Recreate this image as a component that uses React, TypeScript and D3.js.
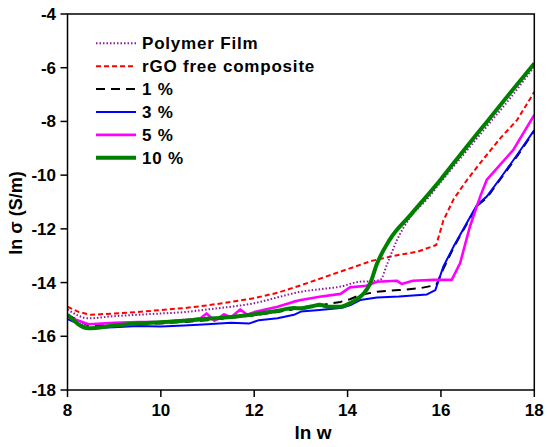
import React from 'react';
import * as d3 from 'd3';

// ln w / ln sigma readings, one pair of arrays per sample
const polymerX = [8, 8.45, 9, 9.5, 10, 10.5, 11, 11.5, 12, 12.5, 13, 13.4, 13.85, 14.25, 14.5, 14.7, 14.85, 15.05, 15.35, 15.7, 16, 16.5, 17, 17.5, 18];
const polymerY = [-15.0, -15.33, -15.25, -15.2, -15.15, -15.1, -15.0, -14.9, -14.77, -14.55, -14.34, -14.25, -14.15, -13.97, -13.95, -13.9, -13.3, -12.45, -11.55, -10.9, -10.25, -9.2, -8.15, -7.1, -5.95];

const rgoFreeX = [8, 8.25, 8.5, 9, 9.5, 10, 10.5, 11, 11.5, 12, 12.5, 13, 13.5, 14, 14.5, 15, 15.5, 15.9, 16.05, 16.27, 16.55, 16.84, 17.27, 17.63, 18];
const rgoFreeY = [-14.9, -15.1, -15.2, -15.15, -15.1, -15.02, -14.95, -14.85, -14.72, -14.58, -14.38, -14.1, -13.8, -13.5, -13.2, -13.0, -12.85, -12.6, -11.7, -10.9, -10.2, -9.55, -8.63, -7.95, -6.9];

const pct1X = [8, 8.45, 9, 9.5, 10, 10.5, 11, 11.4, 12, 12.4, 12.77, 13, 13.4, 13.85, 14.05, 14.27, 14.63, 15.1, 15.55, 15.9, 16.05, 16.27, 16.77, 16.98, 17.63, 18];
const pct1Y = [-15.2, -15.6, -15.58, -15.55, -15.52, -15.47, -15.4, -15.33, -15.22, -15.12, -15.02, -14.92, -14.85, -14.72, -14.62, -14.46, -14.34, -14.28, -14.21, -14.09, -13.5, -12.7, -11.15, -10.85, -9.3, -8.35];

const pct3X = [8, 8.45, 9, 9.5, 10, 10.5, 11, 11.5, 11.9, 12.1, 12.5, 12.85, 13.0, 13.4, 13.85, 14.05, 14.27, 14.63, 15.1, 15.7, 15.88, 16.05, 16.27, 16.77, 16.98, 17.3, 17.63, 18];
const pct3Y = [-15.36, -15.69, -15.66, -15.62, -15.64, -15.6, -15.55, -15.5, -15.52, -15.4, -15.33, -15.2, -15.08, -15.02, -14.95, -14.85, -14.65, -14.56, -14.52, -14.44, -14.28, -13.41, -12.66, -11.11, -10.8, -10.05, -9.25, -8.32];

const pct5X = [8, 8.45, 9, 9.5, 10, 10.5, 10.85, 10.98, 11.15, 11.35, 11.5, 11.7, 11.85, 12, 12.5, 12.85, 13.0, 13.4, 13.85, 14.05, 14.4, 14.63, 15.05, 15.16, 15.4, 15.85, 16.23, 16.41, 16.62, 16.84, 16.98, 17.55, 18];
const pct5Y = [-15.27, -15.55, -15.5, -15.47, -15.46, -15.4, -15.33, -15.15, -15.42, -15.18, -15.3, -15.0, -15.2, -15.1, -14.9, -14.71, -14.65, -14.53, -14.42, -14.18, -14.12, -13.97, -13.93, -14.05, -13.93, -13.9, -13.9, -13.28, -11.92, -10.8, -10.18, -9.06, -7.76];

const pct10X = [8, 8.45, 9, 9.5, 10, 10.5, 11, 11.5, 12, 12.5, 12.85, 13.0, 13.25, 13.4, 13.6, 13.85, 14.05, 14.2, 14.35, 14.48, 14.63, 14.9, 15.35, 16, 16.5, 17, 17.5, 18];
const pct10Y = [-15.2, -15.7, -15.6, -15.52, -15.48, -15.42, -15.35, -15.28, -15.18, -15.05, -14.95, -14.96, -14.88, -14.83, -14.9, -14.9, -14.77, -14.62, -14.4, -14.05, -13.3, -12.41, -11.48, -10.15, -9.05, -7.98, -6.9, -5.84];

const xTicks = [8, 10, 12, 14, 16, 18];
const yTicks = [-4, -6, -8, -10, -12, -14, -16, -18];

interface Series {
  name: string;
  xs: number[];
  ys: number[];
  color: string;
  width: number;
  dash: string;
  smooth: boolean;
}

// legend order
const series: Series[] = [
  { name: 'Polymer Film', xs: polymerX, ys: polymerY, color: '#8B1A9B', width: 2, dash: '1.5,2', smooth: true },
  { name: 'rGO free composite', xs: rgoFreeX, ys: rgoFreeY, color: '#FF0000', width: 2, dash: '5,3', smooth: false },
  { name: '1 %', xs: pct1X, ys: pct1Y, color: '#000000', width: 2, dash: '9,6', smooth: false },
  { name: '3 %', xs: pct3X, ys: pct3Y, color: '#0000FF', width: 2, dash: '', smooth: false },
  { name: '5 %', xs: pct5X, ys: pct5Y, color: '#FF00FF', width: 2.6, dash: '', smooth: false },
  { name: '10 %', xs: pct10X, ys: pct10Y, color: '#008000', width: 4, dash: '', smooth: true },
];

// drawing order (black under blue, purple under green)
const drawOrder = ['rGO free composite', 'Polymer Film', '1 %', '3 %', '5 %', '10 %'];

const font = '"Liberation Sans", Arial, sans-serif';

const App: React.FC = () => {
  const left = 67.5;
  const right = 534.3;
  const top = 14;
  const bottom = 390;

  const x = d3.scaleLinear().domain([8, 18]).range([left, right]);
  const y = d3.scaleLinear().domain([-18, -4]).range([bottom, top]);

  const line = (s: Series) =>
    d3
      .line<number>()
      .x((_, i) => x(s.xs[i]))
      .y((d) => y(d))
      .curve(s.smooth ? d3.curveMonotoneX : d3.curveLinear)(s.ys) || '';

  return (
    <svg
      width={550}
      height={447}
      style={{ position: 'absolute', left: 0, top: 0, background: '#fff' }}
      fontFamily={font}
    >
      <defs>
        <clipPath id="plot">
          <rect x={left} y={top} width={right - left} height={bottom - top} />
        </clipPath>
      </defs>

      <g clipPath="url(#plot)">
        {drawOrder.map((n) => {
          const s = series.find((d) => d.name === n)!;
          return (
            <path
              key={n}
              d={line(s)}
              fill="none"
              stroke={s.color}
              strokeWidth={s.width}
              strokeDasharray={s.dash || undefined}
              strokeLinejoin="round"
            />
          );
        })}
      </g>

      {/* frame */}
      <rect x={left} y={top} width={right - left} height={bottom - top} fill="none" stroke="#000" strokeWidth={1.5} />

      {/* x ticks */}
      {xTicks.map((t) => (
        <g key={'x' + t}>
          <line x1={x(t)} x2={x(t)} y1={bottom} y2={bottom + 7} stroke="#000" strokeWidth={1.5} />
          <text x={x(t)} y={416} textAnchor="middle" fontSize={17} fontWeight="bold">
            {t}
          </text>
        </g>
      ))}

      {/* y ticks */}
      {yTicks.map((t) => (
        <g key={'y' + t}>
          <line x1={left - 7} x2={left} y1={y(t)} y2={y(t)} stroke="#000" strokeWidth={1.5} />
          <text x={56} y={y(t)} dy="0.35em" textAnchor="end" fontSize={17} fontWeight="bold">
            {t}
          </text>
        </g>
      ))}

      <text x={313} y={439} textAnchor="middle" fontSize={19} fontWeight="bold">
        ln w
      </text>
      <text
        transform="translate(22,213) rotate(-90)"
        textAnchor="middle"
        fontSize={18}
        fontWeight="bold"
      >
        ln σ (S/m)
      </text>

      {/* legend */}
      {series.map((s, i) => {
        const ly = 43.3 + i * 22.9;
        return (
          <g key={'l' + s.name}>
            <line
              x1={96}
              x2={i === 2 ? 139 : 136}
              y1={ly}
              y2={ly}
              stroke={s.color}
              strokeWidth={s.width}
              strokeDasharray={s.dash || undefined}
            />
            <text x={142} y={ly} dy="0.36em" fontSize={17} letterSpacing={0.8} fontWeight="bold">
              {s.name}
            </text>
          </g>
        );
      })}
    </svg>
  );
};

export default App;
